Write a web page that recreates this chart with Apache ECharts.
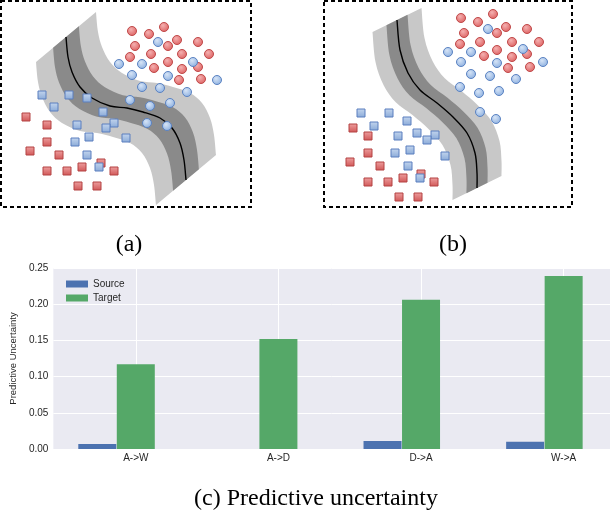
<!DOCTYPE html>
<html>
<head>
<meta charset="utf-8">
<script src="https://cdn.jsdelivr.net/npm/echarts@6/dist/echarts.min.js"></script>
<style>
    html, body { margin: 0; padding: 0; background: #fff; }
    #chart { width: 610px; height: 512px; }
</style>
</head>
<body>
<div id="chart"></div>
<script>
// --- panel (a): local coords inside the dashed box ---
const centerA = [[65, 36], [67, 56], [71, 71], [79, 86], [91, 97], [109, 105], [126, 107], [142, 111], [159, 117], [171, 127], [179, 142], [183, 159], [185, 179]];
const redCirclesA = [[131, 30], [163, 26], [148, 33], [134, 45], [176, 39], [167, 45], [197, 41], [150, 53], [129, 56], [181, 53], [208, 53], [167, 61], [153, 67], [197, 66], [181, 68], [178, 79], [200, 78]];
const blueCirclesA = [[157, 41], [118, 63], [141, 63], [192, 61], [131, 74], [167, 75], [216, 79], [141, 86], [159, 87], [186, 91], [129, 99], [149, 105], [169, 102], [146, 122], [166, 125]];
const blueSquaresA = [[41, 94], [68, 94], [86, 97], [53, 106], [102, 111], [76, 124], [113, 122], [105, 127], [88, 136], [125, 137], [74, 141], [86, 154], [98, 166]];
const redSquaresA = [[25, 116], [46, 124], [46, 141], [29, 150], [58, 154], [100, 162], [46, 170], [66, 170], [81, 166], [113, 170], [77, 185], [96, 185]];

// --- panel (b) ---
const centerB = [[73, 19], [76, 49], [84, 72], [96, 89], [113, 102], [129, 116], [143, 132], [151, 152], [153, 172], [153, 187]];
const redCirclesB = [[137, 17], [169, 13], [154, 21], [182, 26], [140, 32], [173, 32], [203, 28], [136, 43], [156, 41], [188, 41], [215, 41], [173, 49], [160, 55], [188, 56], [203, 53], [184, 67], [206, 66]];
const blueCirclesB = [[164, 28], [124, 51], [147, 51], [199, 48], [137, 61], [173, 62], [219, 61], [147, 73], [166, 75], [192, 78], [136, 86], [155, 92], [175, 90], [156, 111], [172, 118]];
const blueSquaresB = [[37, 112], [65, 112], [83, 120], [50, 125], [93, 132], [74, 135], [111, 134], [103, 139], [86, 149], [71, 152], [121, 155], [84, 165], [96, 177]];
const redSquaresB = [[29, 127], [44, 135], [44, 152], [26, 161], [56, 165], [97, 173], [44, 181], [64, 181], [79, 177], [110, 181], [75, 196], [94, 196]];

// band half-width direction (local units) and outer/inner scale
const bandOffsetA = [30, -25];
const bandOffsetB = [24.5, -12];
const bandScales = [1, 0.43];
const bandColors = ['#c8c8c8', '#8a8a8a'];

// --- panel (c): bar chart ---
const categories = ['A->W', 'A->D', 'D->A', 'W->A'];
const sourceValues = [0.007, 0, 0.011, 0.010];
const targetValues = [0.117, 0.152, 0.206, 0.239];

const chart = echarts.init(document.getElementById('chart'), null, { renderer: 'canvas' });

// catmull-rom -> cubic bezier path pieces
const bezierPieces = (pts) => {
    let d = '';
    for (let i = 0; i < pts.length - 1; i++) {
        const p0 = pts[Math.max(i - 1, 0)], p1 = pts[i], p2 = pts[i + 1], p3 = pts[Math.min(i + 2, pts.length - 1)];
        const c1 = [p1[0] + (p2[0] - p0[0]) / 6, p1[1] + (p2[1] - p0[1]) / 6];
        const c2 = [p2[0] - (p3[0] - p1[0]) / 6, p2[1] - (p3[1] - p1[1]) / 6];
        d += ' C' + c1[0] + ',' + c1[1] + ' ' + c2[0] + ',' + c2[1] + ' ' + p2[0] + ',' + p2[1];
    }
    return d;
};

const bandSeries = (idx, line, offset) => ({
    type: 'custom',
    xAxisIndex: idx, yAxisIndex: idx,
    silent: true, z: 1,
    data: bandScales.map((s, i) => [s, i]),
    renderItem: (params, api) => {
        const s = api.value(0);
        const up = line.map(p => api.coord([p[0] + s * offset[0], p[1] + s * offset[1]]));
        const dn = line.map(p => api.coord([p[0] - s * offset[0], p[1] - s * offset[1]])).reverse();
        const d = 'M' + up[0][0] + ',' + up[0][1] + bezierPieces(up)
            + ' L' + dn[0][0] + ',' + dn[0][1] + bezierPieces(dn) + ' Z';
        return { type: 'path', shape: { pathData: d }, style: { fill: bandColors[params.dataIndex] } };
    }
});

const centerSeries = (idx, line) => ({
    type: 'custom',
    xAxisIndex: idx, yAxisIndex: idx,
    silent: true, z: 2,
    data: [[0, 0]],
    renderItem: (params, api) => {
        const pts = line.map(p => api.coord(p));
        const d = 'M' + pts[0][0] + ',' + pts[0][1] + bezierPieces(pts);
        return { type: 'path', shape: { pathData: d }, style: { fill: null, stroke: '#000', lineWidth: 1.4 } };
    }
});

const radial = (c0, c1) => new echarts.graphic.RadialGradient(0.4, 0.35, 0.7, [
    { offset: 0, color: c0 }, { offset: 1, color: c1 }
]);
const linear = (c0, c1) => new echarts.graphic.LinearGradient(0, 0, 0, 1, [
    { offset: 0, color: c0 }, { offset: 1, color: c1 }
]);

const markerStyles = {
    redCircle: { symbol: 'circle', size: 9, color: radial('#f4b0b0', '#dc5e5e'), border: '#c04848' },
    blueCircle: { symbol: 'circle', size: 9, color: radial('#d6e4f6', '#8aaedf'), border: '#5a82c2' },
    blueSquare: { symbol: 'rect', size: 8, color: linear('#c4d6ee', '#8aaad8'), border: '#5a7fbf' },
    redSquare: { symbol: 'rect', size: 8, color: linear('#eea0a0', '#d05656'), border: '#b44242' }
};

const scatter = (idx, data, key) => ({
    type: 'scatter',
    xAxisIndex: idx, yAxisIndex: idx,
    silent: true, z: 3,
    symbol: markerStyles[key].symbol,
    symbolSize: markerStyles[key].size,
    itemStyle: { color: markerStyles[key].color, borderColor: markerStyles[key].border, borderWidth: 1, opacity: 1 },
    data: data
});

const panelGrid = (left, width) => ({
    left: left, top: 1, width: width, height: 206,
    show: true, backgroundColor: '#fff', borderColor: '#000', borderWidth: 2, borderType: [4, 3]
});

const hiddenX = (idx, max) => ({ type: 'value', gridIndex: idx, min: 0, max: max, show: false });
const hiddenY = (idx, max) => ({ type: 'value', gridIndex: idx, min: 0, max: max, inverse: true, show: false });

const labelFont = { fontFamily: 'Liberation Sans', fontSize: 10, color: '#262626' };
const captionFont = { fontFamily: 'Liberation Serif', fontSize: 24, fontWeight: 'normal', color: '#000' };

const option = {
    animation: false,
    backgroundColor: '#fff',
    title: [
        { text: '(a)', left: 124, top: 228, textAlign: 'center', textStyle: captionFont },
        { text: '(b)', left: 448, top: 228, textAlign: 'center', textStyle: captionFont },
        { text: '(c) Predictive uncertainty', left: 311, top: 482, textAlign: 'center', textStyle: captionFont }
    ],
    legend: {
        data: ['Source', 'Target'],
        orient: 'vertical',
        left: 61, top: 274,
        itemWidth: 22, itemHeight: 7, itemGap: 4,
        icon: 'rect',
        textStyle: labelFont
    },
    grid: [
        panelGrid(1, 250),
        panelGrid(324, 248),
        { left: 52, top: 268, width: 560, height: 181, show: true, backgroundColor: '#eaeaf2', borderWidth: 0 }
    ],
    xAxis: [
        hiddenX(0, 250),
        hiddenX(1, 248),
        {
            type: 'value', gridIndex: 2, min: -0.578, max: 3.325,
            axisLine: { show: false },
            axisTick: { show: false, customValues: [0, 1, 2, 3] },
            axisLabel: { customValues: [0, 1, 2, 3], formatter: v => categories[Math.round(v)], margin: 4, ...labelFont },
            splitLine: { show: true, lineStyle: { color: '#fff', width: 1 } }
        }
    ],
    yAxis: [
        hiddenY(0, 206),
        hiddenY(1, 206),
        {
            type: 'value', gridIndex: 2, min: 0, max: 0.25, interval: 0.05,
            name: 'Predictive Uncertainty', nameLocation: 'middle', nameGap: 27,
            nameTextStyle: { fontFamily: 'Liberation Sans', fontSize: 9.5, color: '#262626' },
            axisLine: { show: false },
            axisTick: { show: false },
            axisLabel: { formatter: v => v.toFixed(2), margin: 5, ...labelFont },
            splitLine: { show: true, lineStyle: { color: '#fff', width: 1 } }
        }
    ],
    series: [
        bandSeries(0, centerA, bandOffsetA),
        centerSeries(0, centerA),
        scatter(0, redCirclesA, 'redCircle'),
        scatter(0, blueCirclesA, 'blueCircle'),
        scatter(0, redSquaresA, 'redSquare'),
        scatter(0, blueSquaresA, 'blueSquare'),

        bandSeries(1, centerB, bandOffsetB),
        centerSeries(1, centerB),
        scatter(1, redCirclesB, 'redCircle'),
        scatter(1, blueCirclesB, 'blueCircle'),
        scatter(1, redSquaresB, 'redSquare'),
        scatter(1, blueSquaresB, 'blueSquare'),

        {
            name: 'Source', type: 'bar', xAxisIndex: 2, yAxisIndex: 2,
            barWidth: 38, barGap: '-100%',
            itemStyle: { color: '#4c72b0' },
            data: sourceValues.map((v, i) => [i - 0.27, v])
        },
        {
            name: 'Target', type: 'bar', xAxisIndex: 2, yAxisIndex: 2,
            barWidth: 38, barGap: '-100%',
            itemStyle: { color: '#55a868' },
            data: targetValues.map((v, i) => [i, v])
        }
    ]
};

chart.setOption(option);
</script>
</body>
</html>
